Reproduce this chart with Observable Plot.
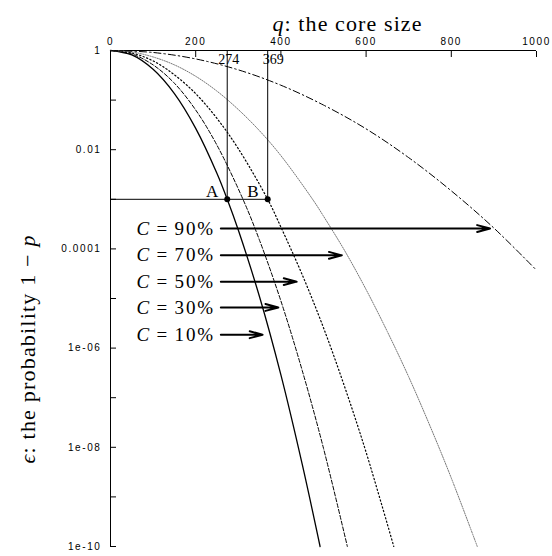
<!DOCTYPE html>
<html><head><meta charset="utf-8">
<script src="https://cdn.jsdelivr.net/npm/d3@7"></script>
<script src="https://cdn.jsdelivr.net/npm/@observablehq/plot@0.6"></script>
<style>body{margin:0;background:#fff}</style>
</head><body><div id="chart"></div>
<script>
// core size q and log10 of epsilon for each confidence level C
const q10  = [0, 50, 100, 150, 200, 250, 274, 300, 350, 400, 450, 492];
const lg10 = [0, -0.09, -0.38, -0.87, -1.57, -2.48, -3.0, -3.62, -4.97, -6.54, -8.34, -10];
const q30  = [0, 50, 100, 150, 200, 250, 312, 350, 400, 450, 500, 556];
const lg30 = [0, -0.07, -0.29, -0.66, -1.20, -1.91, -3.02, -3.83, -5.05, -6.45, -8.02, -10];
const q50  = [0, 50, 100, 150, 200, 250, 300, 369, 400, 450, 500, 550, 600, 665];
const lg50 = [0, -0.05, -0.21, -0.49, -0.87, -1.37, -1.98, -3.0, -3.56, -4.52, -5.59, -6.79, -8.10, -10];
const q70  = [0, 50, 100, 150, 200, 250, 300, 350, 400, 476, 500, 550, 600, 650, 700, 750, 800, 861];
const lg70 = [0, -0.03, -0.13, -0.29, -0.52, -0.82, -1.19, -1.62, -2.12, -3.02, -3.34, -4.04, -4.82, -5.67, -6.58, -7.57, -8.62, -10];
const q90  = [0, 100, 200, 300, 400, 500, 600, 700, 800, 900, 1000];
const lg90 = [0, -0.04, -0.17, -0.39, -0.70, -1.10, -1.58, -2.16, -2.83, -3.58, -4.43];

// annotations
const arrowLabels = ["C = 10%", "C = 30%", "C = 50%", "C = 70%", "C = 90%"];
const arrowLg     = [-5.73, -5.18, -4.66, -4.13, -3.59];
const arrowEnd    = [357, 394, 437, 543, 891];
const arrowStart  = 259;
const markQ       = [274, 369];
const markNames   = ["A", "B"];
const markEps     = 1e-3;

// axes
const xTicks = [0, 200, 400, 600, 800, 1000];
const yTicks = [1, 1e-2, 1e-4, 1e-6, 1e-8, 1e-10];
const yTickLabels = ["1", "0.01", "0.0001", "1e-06", "1e-08", "1e-10"];
const yMinor = [1e-1, 1e-3, 1e-5, 1e-7, 1e-9];
const title = "q: the core size";
const yTitle = "ϵ: the probability 1 − p";

const toRows = (qs, ls) => qs.map((q, i) => ({q, eps: 10 ** ls[i]}));
const arrows = arrowLabels.map((label, i) => ({label, eps: 10 ** arrowLg[i], end: arrowEnd[i]}));
const marksAB = markQ.map((q, i) => ({q, name: markNames[i], eps: markEps}));
const yLabelOf = d => yTickLabels[yTicks.findIndex(t => Math.abs(Math.log10(t) - Math.log10(d)) < 1e-6)];

const line = (rows, opts) => Plot.line(rows, {x: "q", y: "eps", curve: "catmull-rom", stroke: "black", ...opts});

const plot = Plot.plot({
  width: 552, height: 556,
  marginLeft: 110, marginRight: 16, marginTop: 50, marginBottom: 10,
  style: {fontFamily: "Liberation Serif", background: "#fff", color: "black"},
  x: {domain: [0, 1000]},
  y: {type: "log", domain: [1e-10, 1]},
  marks: [
    Plot.axisX({anchor: "top", ticks: xTicks, tickSize: -6, tickPadding: 12, label: null, fontSize: 10, tickFormat: d => String(d)}),
    Plot.axisY({anchor: "left", ticks: yTicks, tickSize: -6, tickPadding: 15, label: null, fontSize: 10, tickFormat: yLabelOf}),
    Plot.axisY({anchor: "left", ticks: yMinor, tickSize: -6, label: null, tickFormat: () => ""}),
    Plot.ruleX([0], {stroke: "black"}),
    Plot.ruleY([1], {stroke: "black"}),
    line(toRows(q10, lg10), {strokeWidth: 1.3}),
    line(toRows(q30, lg30), {strokeWidth: 1, strokeDasharray: "4,2"}),
    line(toRows(q50, lg50), {strokeWidth: 1.2, strokeDasharray: "1.3,2.4"}),
    line(toRows(q70, lg70), {strokeWidth: 1, stroke: "#777", strokeDasharray: "1.2,1.3"}),
    line(toRows(q90, lg90), {strokeWidth: 1, strokeDasharray: "7,3,1.5,3"}),
    Plot.ruleX(marksAB, {x: "q", y1: 1, y2: "eps", stroke: "black", strokeWidth: 1}),
    Plot.ruleY([markEps], {x1: 0, x2: markQ[1], stroke: "black", strokeWidth: 1}),
    Plot.dot(marksAB, {x: "q", y: "eps", r: 3, fill: "black"}),
    Plot.text(marksAB, {x: "q", y: "eps", text: "name", textAnchor: "end", dx: -9, dy: -8, fontSize: 17}),
    Plot.text(marksAB.slice(0, 1), {x: "q", y: () => 1, text: d => String(d.q), textAnchor: "start", dx: -9, dy: 9, fontSize: 14}),
    Plot.text(marksAB.slice(1), {x: "q", y: () => 1, text: d => String(d.q), textAnchor: "start", dx: -5, dy: 9, fontSize: 14}),
    Plot.arrow(arrows, {x1: () => arrowStart, y1: "eps", x2: "end", y2: "eps", stroke: "black", strokeWidth: 2, headLength: 10, headAngle: 30}),
    Plot.text(arrows, {x: () => arrowStart, y: "eps", text: "label", textAnchor: "end", dx: -6, fontSize: 19}),
    Plot.text([title], {frameAnchor: "top", dx: 24, dy: -35, fontSize: 22}),
    Plot.text([yTitle], {frameAnchor: "left", rotate: -90, dx: -83, dy: 165, fontSize: 22})
  ]
});

const svg = d3.select(plot);
svg.selectAll('g[aria-label="x-axis tick label"], g[aria-label="y-axis tick label"]')
  .attr("font-family", "Liberation Sans").style("letter-spacing", "1.6px");

const italics = {
  [title]: [["q", true], [": the core size", false]],
  [yTitle]: [["ϵ", true], [": the probability 1 − ", false], ["p", true]]
};
svg.selectAll("text").each(function () {
  const t = this.textContent;
  let parts = italics[t];
  const m = /^C = (.*)$/.exec(t);
  if (m) parts = [["C", true], ["\u2009=\u2009" + m[1], false]];
  if (!parts) return;
  const s = d3.select(this).text(null);
  for (const [str, it] of parts) s.append("tspan").attr("font-style", it ? "italic" : null).text(str);
  if (m) s.style("letter-spacing", "1.8px");
  else if (t === title) s.style("letter-spacing", "1.1px");
  else s.style("letter-spacing", "1.2px");
});

document.getElementById("chart").append(plot);
</script>
</body></html>
